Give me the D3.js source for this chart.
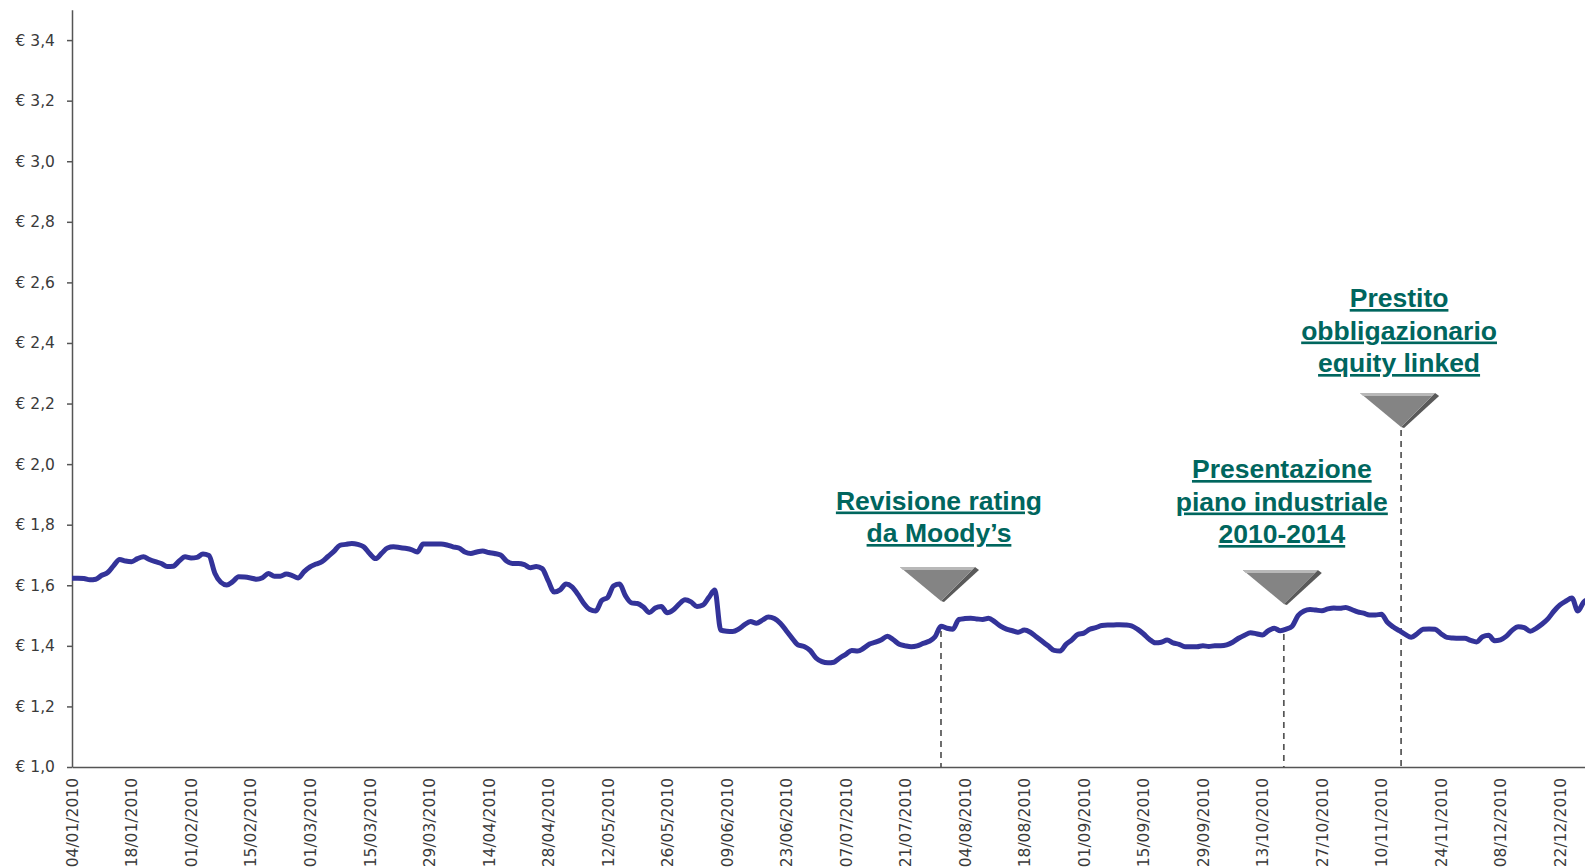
<!DOCTYPE html>
<html>
<head>
<meta charset="utf-8">
<style>
    body { margin: 0; background: #fff; }
    svg { display: block; }
    .axis text { font-family: 'DejaVu Sans', sans-serif; font-size: 15.5px; fill: #3a3a3a; }
    .axis path, .axis line { stroke: #555; stroke-width: 1.5; }
    .note text {
        font-family: 'Liberation Sans', Arial, sans-serif;
        font-weight: bold;
        font-size: 26.5px;
        fill: #00665e;
        text-decoration: underline;
    }
</style>
</head>
<body>
<svg width="1585" height="867"></svg>

<script src="https://d3js.org/d3.v7.min.js"></script>
<script>
    // tick labels on the date axis, one every 10 trading days
    let dateLabels = ["04/01/2010", "18/01/2010", "01/02/2010", "15/02/2010", "01/03/2010",
        "15/03/2010", "29/03/2010", "14/04/2010", "28/04/2010", "12/05/2010", "26/05/2010",
        "09/06/2010", "23/06/2010", "07/07/2010", "21/07/2010", "04/08/2010", "18/08/2010",
        "01/09/2010", "15/09/2010", "29/09/2010", "13/10/2010", "27/10/2010", "10/11/2010",
        "24/11/2010", "08/12/2010", "22/12/2010"]

    let priceTicks = [1.0, 1.2, 1.4, 1.6, 1.8, 2.0, 2.2, 2.4, 2.6, 2.8, 3.0, 3.2, 3.4]

    // closing price, one value per trading day
    let prices = [
        1.623, 1.623, 1.622, 1.618, 1.620, 1.633, 1.642, 1.665, 1.685, 1.680,
        1.678, 1.688, 1.694, 1.685, 1.678, 1.672, 1.662, 1.663, 1.680, 1.694,
        1.690, 1.692, 1.703, 1.698, 1.640, 1.610, 1.601, 1.612, 1.628, 1.627,
        1.624, 1.620, 1.625, 1.639, 1.630, 1.630, 1.637, 1.632, 1.624, 1.645,
        1.661, 1.670, 1.678, 1.695, 1.712, 1.732, 1.735, 1.738, 1.735, 1.727,
        1.705, 1.688, 1.705, 1.723, 1.727, 1.725, 1.722, 1.718, 1.710, 1.736,
        1.736, 1.736, 1.736, 1.733, 1.727, 1.723, 1.710, 1.705, 1.710, 1.713,
        1.708, 1.705, 1.700, 1.680, 1.672, 1.672, 1.668, 1.658, 1.662, 1.655,
        1.615, 1.578, 1.585, 1.604, 1.595, 1.570, 1.540, 1.520, 1.515, 1.550,
        1.560, 1.598, 1.604, 1.565, 1.542, 1.540, 1.528, 1.510, 1.525, 1.530,
        1.509, 1.518, 1.538, 1.552, 1.545, 1.530, 1.535, 1.560, 1.584, 1.452,
        1.448, 1.447, 1.455, 1.470, 1.480, 1.475, 1.485, 1.495, 1.490, 1.475,
        1.450, 1.425, 1.403, 1.398, 1.385, 1.360, 1.348, 1.344, 1.346, 1.360,
        1.372, 1.385, 1.383, 1.392, 1.406, 1.412, 1.420, 1.432, 1.420, 1.405,
        1.400, 1.397, 1.400, 1.408, 1.415, 1.430, 1.465, 1.458, 1.455, 1.487,
        1.490, 1.491, 1.489, 1.487, 1.491, 1.480, 1.465, 1.455, 1.450, 1.445,
        1.452, 1.445, 1.430, 1.415, 1.400, 1.385, 1.383, 1.405, 1.420, 1.438,
        1.442, 1.455, 1.460, 1.467, 1.469, 1.469, 1.470, 1.469, 1.466, 1.455,
        1.440, 1.422, 1.410, 1.412, 1.419, 1.410, 1.405, 1.397, 1.397, 1.397,
        1.400, 1.398, 1.400, 1.400, 1.403, 1.412, 1.425, 1.435, 1.443, 1.440,
        1.436, 1.450, 1.458, 1.450, 1.455, 1.465, 1.500, 1.515, 1.520, 1.518,
        1.516, 1.522, 1.525, 1.524, 1.527, 1.520, 1.512, 1.508, 1.502, 1.502,
        1.504, 1.478, 1.462, 1.450, 1.438, 1.428, 1.440, 1.455, 1.456, 1.455,
        1.440, 1.428, 1.426, 1.425, 1.425, 1.418, 1.413, 1.430, 1.435, 1.417,
        1.420, 1.432, 1.452, 1.463, 1.460, 1.448, 1.458, 1.472, 1.490, 1.515,
        1.535, 1.548, 1.558, 1.515, 1.545, 1.555
    ]

    // events marked on the chart (position in trading days)
    let eventLines = [
        ["Revisione rating", "da Moody\u2019s"],
        ["Presentazione", "piano industriale", "2010-2014"],
        ["Prestito", "obbligazionario", "equity linked"]
    ]
    let eventDays = [146, 203.6, 223.3]

    let svg = d3.select("svg")

    let x = d3.scaleLinear()
        .domain([0, prices.length - 1])
        .range([72, 72 + (prices.length - 1) * 5.952])

    let y = d3.scaleLinear()
        .domain([1.0, 3.5])
        .range([767, 9.8])

    // note layout: top of the arrow, where the dashed line starts, gap text -> arrow
    let noteTop = [567, 570, 393]
    let dashTop = [631, 634, 430]
    let textGap = [25, 27, 21]

    // dashed event lines go under the price line
    svg.append("g")
        .selectAll("line")
        .data(eventDays)
        .join("line")
        .attr("x1", d => x(d))
        .attr("x2", d => x(d))
        .attr("y1", (d, i) => dashTop[i])
        .attr("y2", y(1.0))
        .attr("stroke", "#555")
        .attr("stroke-width", 1.7)
        .attr("stroke-dasharray", "6,5")

    // axes
    let yAxis = d3.axisLeft(y)
        .tickValues(priceTicks)
        .tickSize(5)
        .tickPadding(12)
        .tickSizeOuter(0)
        .tickFormat(d => "\u20ac " + d3.format(".1f")(d).replace(".", ","))

    svg.append("g")
        .attr("class", "axis")
        .attr("transform", "translate(72,0)")
        .call(yAxis)

    let xAxis = d3.axisBottom(x)
        .tickValues(d3.range(0, prices.length, 10))
        .tickSize(0)
        .tickSizeOuter(0)
        .tickFormat((d, i) => dateLabels[i])

    let gx = svg.append("g")
        .attr("class", "axis")
        .attr("transform", "translate(0," + y(1.0) + ")")
        .call(xAxis)

    gx.selectAll("text")
        .attr("transform", "rotate(-90)")
        .attr("x", -11)
        .attr("y", 0)
        .attr("dy", "0.35em")
        .style("text-anchor", "end")

    // price line
    let line = d3.line()
        .x((d, i) => x(i))
        .y(d => y(d))
        .curve(d3.curveMonotoneX)

    svg.append("path")
        .datum(prices)
        .attr("d", line)
        .attr("fill", "none")
        .attr("stroke", "#333399")
        .attr("stroke-width", 5)
        .attr("stroke-linejoin", "round")

    // arrows + labels
    let notes = svg.append("g").attr("class", "note")

    eventDays.forEach((day, i) => {
        let ax = x(day)
        let top = noteTop[i]
        let h = 34

        notes.append("polygon")
            .attr("points", [[ax + 34, top], [ax + 38, top + 3], [ax + 3, top + h + 1], [ax, top + h]].join(" "))
            .attr("fill", "#5a5a5a")
        notes.append("polygon")
            .attr("points", [[ax - 41, top], [ax + 34, top], [ax, top + h]].join(" "))
            .attr("fill", "#848484")
        notes.append("polygon")
            .attr("points", [[ax - 41, top], [ax + 34, top], [ax + 31, top + 3], [ax - 38, top + 3]].join(" "))
            .attr("fill", "#b8b8b8")

        let lines = eventLines[i]
        let lastBase = top - textGap[i]
        notes.selectAll(null)
            .data(lines)
            .join("text")
            .attr("x", ax - 2)
            .attr("y", (d, j) => lastBase - (lines.length - 1 - j) * 32.5)
            .attr("text-anchor", "middle")
            .text(d => d)
    })
</script>
</body>
</html>
